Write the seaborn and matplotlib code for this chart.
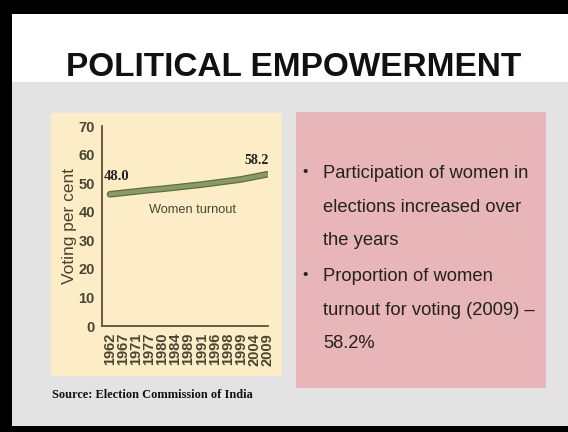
import matplotlib
matplotlib.use("Agg")
import matplotlib.pyplot as plt
import matplotlib.patches as mpatches
import matplotlib.patheffects as pe
import seaborn as sns
import pandas as pd

years = ["1962", "1967", "1971", "1977", "1980", "1984", "1989",
         "1991", "1996", "1998", "1999", "2004", "2009"]
turnout = [46.1, 46.6, 47.1, 47.6, 48.0, 48.5, 49.0, 49.5, 50.1, 50.7, 51.3, 52.2, 53.1]
start_label = "48.0"
end_label = "58.2"
series_label = "Women turnout"
y_ticks = [0, 10, 20, 30, 40, 50, 60, 70]
title = "POLITICAL EMPOWERMENT"
bullets = ["Participation of women in\nelections increased over\nthe years",
           "Proportion of women\nturnout for voting (2009) \u2013\n58.2%"]
source = "Source: Election Commission of India"

df = pd.DataFrame({"year": years, "turnout": turnout})

sns.set_theme(style="white")
plt.rcParams["font.family"] = ["Liberation Sans", "DejaVu Sans"]

W, H = 568, 432
fig = plt.figure(figsize=(W / 100, H / 100), dpi=100)
fig.patch.set_facecolor("#e3e3e3")

def rect(x0, y0, x1, y1, color, z=0):
    # pixel coords from top-left
    fig.patches.append(mpatches.Rectangle((x0 / W, 1 - y1 / H), (x1 - x0) / W, (y1 - y0) / H,
                                          transform=fig.transFigure, facecolor=color,
                                          edgecolor="none", zorder=z))

rect(0, 0, W, 82, "#ffffff")
rect(0, 0, W, 14, "#000000", 2)
rect(0, 0, 12, H, "#000000", 2)
rect(0, 426, W, H, "#000000", 2)
rect(51, 113, 282, 376, "#fcedc6", 1)
rect(296, 112, 546, 388, "#e8b5b8", 1)

fig.text(294 / W, 1 - 67 / H, title, ha="center", va="center", fontsize=24,
         fontweight="bold", color="#111111")

ax = fig.add_axes([101.7 / W, 1 - 326 / H, 166.5 / W, 200 / H])
ax.set_zorder(5)
ax.set_facecolor("none")
sns.lineplot(data=df, x="year", y="turnout", ax=ax, color="#8a9a66", linewidth=3.0,
             sort=False,
             path_effects=[pe.Stroke(linewidth=4.8, foreground="#5f6e3e"), pe.Normal()])
ax.set_xlim(-0.64, 12.08)
ax.set_ylim(0, 70)
ax.set_yticks(y_ticks)
ax.set_xticks(range(len(years)))
ax.set_xticklabels(years, rotation=90)
for s in ["top", "right"]:
    ax.spines[s].set_visible(False)
for s in ["left", "bottom"]:
    ax.spines[s].set_color("#5a5236")
    ax.spines[s].set_linewidth(1.3)
ax.tick_params(axis="both", which="both", direction="out", length=3, width=1,
               color="#5a5236", labelcolor="#4a4432", pad=2)
ax.tick_params(axis="y", labelsize=10.5)
ax.tick_params(axis="x", labelsize=10.5)
for lab in ax.get_xticklabels() + ax.get_yticklabels():
    lab.set_fontweight("bold")
ax.set_xlabel("")
ax.set_ylabel("Voting per cent", fontsize=12.5, color="#4a4432", labelpad=1)

ax.text(-0.46, 52.2, start_label, fontsize=10.5, fontweight="bold", family="Liberation Serif",
        color="#222222", ha="left", va="center")
ax.text(11.16, 58.1, end_label, fontsize=10, fontweight="bold", family="Liberation Serif",
        color="#222222", ha="center", va="center")
ax.text(6.3, 40.5, series_label, fontsize=9.2, color="#4a4432", ha="center", va="center")

line_y = [172, 275]
for by, txt in zip(line_y, bullets):
    fig.text(305 / W, 1 - by / H, "\u2022", fontsize=11, ha="center", va="center",
             color="#222222")
    fig.text(323 / W, 1 - (by - 7) / H, txt, fontsize=13.2, ha="left", va="top",
             color="#222222", linespacing=2.27)

fig.text(52 / W, 1 - 395 / H, source, fontsize=8.9, fontweight="bold",
         family="Liberation Serif", color="#111111", ha="left", va="center")

fig.savefig("out.png", dpi=100, facecolor=fig.get_facecolor())
